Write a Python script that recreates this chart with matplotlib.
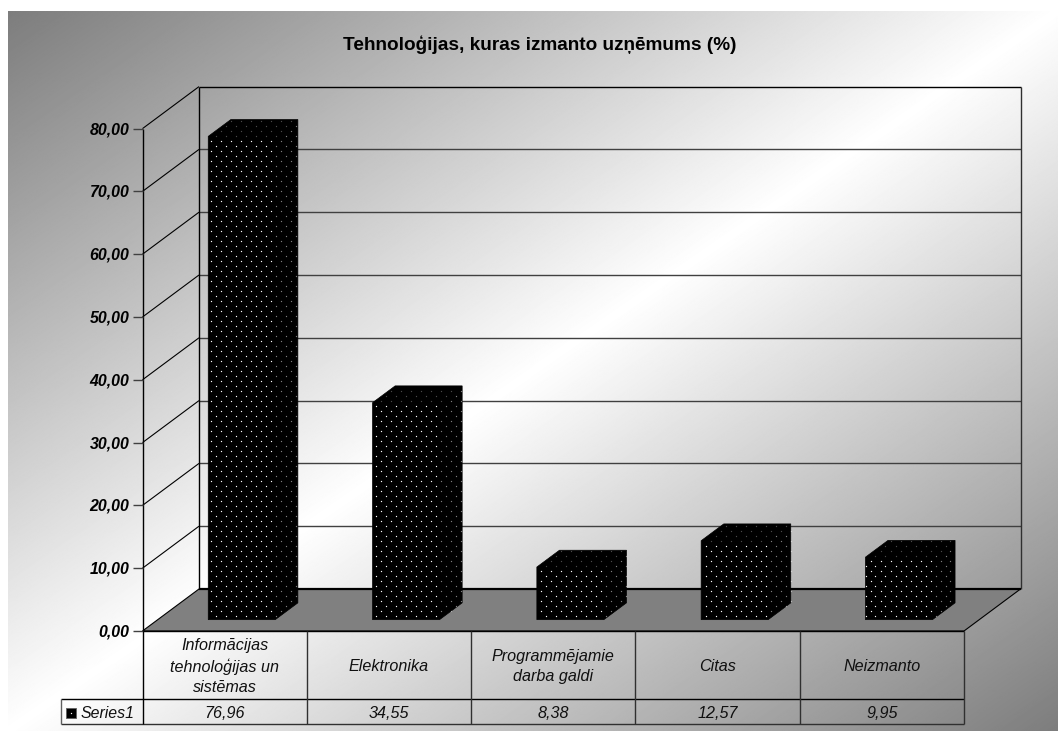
import numpy as np
import matplotlib
matplotlib.use('Agg')
import matplotlib.pyplot as plt
from matplotlib.path import Path
from matplotlib.patches import Polygon

plt.rcParams['font.family'] = ['Liberation Sans', 'DejaVu Sans']

title = 'Tehnoloģijas, kuras izmanto uzņēmums (%)'
categories = ['Informācijas\ntehnoloģijas un\nsistēmas', 'Elektronika',
              'Programmējamie\ndarba galdi', 'Citas', 'Neizmanto']
series_name = 'Series1'
values = [76.96, 34.55, 8.38, 12.57, 9.95]
value_labels = ['76,96', '34,55', '8,38', '12,57', '9,95']
y_ticks = [0, 10, 20, 30, 40, 50, 60, 70, 80]

W, H = 1058, 731
# pixel layout of the fake 3d box
X0, Y0 = 142.5, 631.0
CAT_W = 164.3
VAL_H = 6.28
DEPTH_X, DEPTH_Y = 56.5, 42.0
n = len(categories)

fig = plt.figure(figsize=(W / 100, H / 100), dpi=100)
fig.patch.set_facecolor('white')

bg = fig.add_axes([0, 0, 1, 1])
bg.set_axis_off()
xx, yy = np.meshgrid(np.linspace(0, 1, W), np.linspace(0, 1, H))
t = np.abs(xx + yy - 1)
bg.imshow(255 - 130 * t, cmap='gray', vmin=0, vmax=255, aspect='auto',
          extent=(8, W, H, 11), interpolation='bilinear')
bg.set_xlim(0, W)
bg.set_ylim(H, 0)

# x in categories, y in value units, same axes for box, bars and table
ax = fig.add_axes([0, 0, 1, 1])
ax.patch.set_alpha(0)
ax.set_axis_off()
ax.set_xlim(-X0 / CAT_W, (W - X0) / CAT_W)
ax.set_ylim((Y0 - H) / VAL_H, Y0 / VAL_H)

dx = DEPTH_X / CAT_W
dy = DEPTH_Y / VAL_H
PX = 1 / VAL_H  # one pixel, in value units


def pr(x, v, d=0.0):
    return x + d * dx, v + d * dy


def line(p, q, color='black', lw=1.0, z=3):
    ax.plot([p[0], q[0]], [p[1], q[1]], color=color, lw=lw, zorder=z,
            solid_capstyle='butt')


# floor
ax.add_patch(Polygon([pr(0, 0), pr(n, 0), pr(n, 0, 1), pr(0, 0, 1)],
                     facecolor='#808080', edgecolor='black', lw=0.8, zorder=2))

# walls and gridlines
for v in y_ticks[1:]:
    c = 'black' if v == 80 else '#404040'
    line(pr(0, v, 1), pr(n, v, 1), color=c, lw=1.0, z=1)
    line(pr(0, v), pr(0, v, 1), lw=0.8)
line(pr(0, 0, 1), pr(n, 0, 1), lw=1.6)
line(pr(0, 0, 1), pr(0, 80, 1), lw=1.0)
line(pr(n, 0, 1), pr(n, 80, 1), color='#303030', lw=1.0, z=1)
line(pr(0, 0), pr(0, 80), lw=1.0)

for v in y_ticks:
    ax.plot([-9.5 / CAT_W, 0], [v, v], color='#404040', lw=1.0, zorder=3,
            solid_capstyle='butt')
    ax.text(-13 / CAT_W, v - PX, f'{v},00', ha='right', va='center',
            fontsize=11.4, fontweight='bold', fontstyle='italic', color='black')

ax.text((540 - X0) / CAT_W, (Y0 - 45) / VAL_H, title, ha='center', va='center',
        fontsize=13.7, fontweight='bold', color='black')

# bars
BAR_L = 50.5 / CAT_W
BAR_W = 67.0 / CAT_W
D1, D2 = 0.27, 0.67
px, py = np.meshgrid(np.arange(0, W, 10.0), np.arange(0, H, 5.0))
px[1::2] += 5
pts = np.column_stack([(px.ravel() + 0.5 - X0) / CAT_W, (Y0 - py.ravel() - 0.5) / VAL_H])


def dots(face, alpha):
    inside = Path(face).contains_points(pts)
    sc = ax.scatter(pts[inside, 0], pts[inside, 1], s=0.9, marker='o', color='white',
                    alpha=alpha, linewidths=0, zorder=5)
    sc.set_snap(False)


for i, v in enumerate(values):
    a = i + BAR_L
    b = a + BAR_W
    outline = [pr(a, 0, D1), pr(b, 0, D1), pr(b, 0, D2), pr(b, v, D2), pr(a, v, D2), pr(a, v, D1)]
    ax.add_patch(Polygon(outline, facecolor='black', edgecolor='black', lw=0.5, zorder=4))
    dots([pr(a, 0, D1), pr(b, 0, D1), pr(b, v, D1), pr(a, v, D1)], 1.0)
    dots([pr(b, 0, D1), pr(b, 0, D2), pr(b, v, D2), pr(b, v, D1)], 0.5)
    dots([pr(a, v, D1), pr(b, v, D1), pr(b, v, D2), pr(a, v, D2)], 0.3)

# data table
TABLE_Y1 = (Y0 - 699) / VAL_H
TABLE_Y2 = (Y0 - 724.3) / VAL_H
LEG_X = (61 - X0) / CAT_W
ROW2_Y = (TABLE_Y1 + TABLE_Y2) / 2 - 1.5 * PX
line((0, 0), (n, 0), lw=1.0)
line((LEG_X, TABLE_Y1), (n, TABLE_Y1), lw=1.0)
line((LEG_X, TABLE_Y2), (n, TABLE_Y2), color='#303030', lw=1.0)
line((LEG_X, TABLE_Y1), (LEG_X, TABLE_Y2), color='#606060', lw=1.0)
for i in range(n + 1):
    line((i, 0), (i, TABLE_Y2), color='#303030' if i else 'black', lw=1.0)
for i, cat in enumerate(categories):
    ax.text(i + 0.5, TABLE_Y1 / 2 - 1.5 * PX, cat, ha='center', va='center', fontsize=11.6,
            fontstyle='italic', linespacing=1.42, color='#101010')
    ax.text(i + 0.5, ROW2_Y, value_labels[i], ha='center', va='center',
            fontsize=11.6, fontstyle='italic', color='#101010')
key_x = (70.5 - X0) / CAT_W
ax.scatter([key_x], [ROW2_Y], s=60, marker='s', facecolor='black', edgecolor='#606060',
           linewidths=0.6, zorder=4)
key_dot = ax.scatter([key_x], [ROW2_Y], s=0.9, marker='o', color='white', linewidths=0, zorder=5)
key_dot.set_snap(False)
ax.text((81 - X0) / CAT_W, ROW2_Y, series_name, ha='left', va='center',
        fontsize=11.4, fontstyle='italic', color='#101010')

fig.savefig('out.png', dpi=100)
